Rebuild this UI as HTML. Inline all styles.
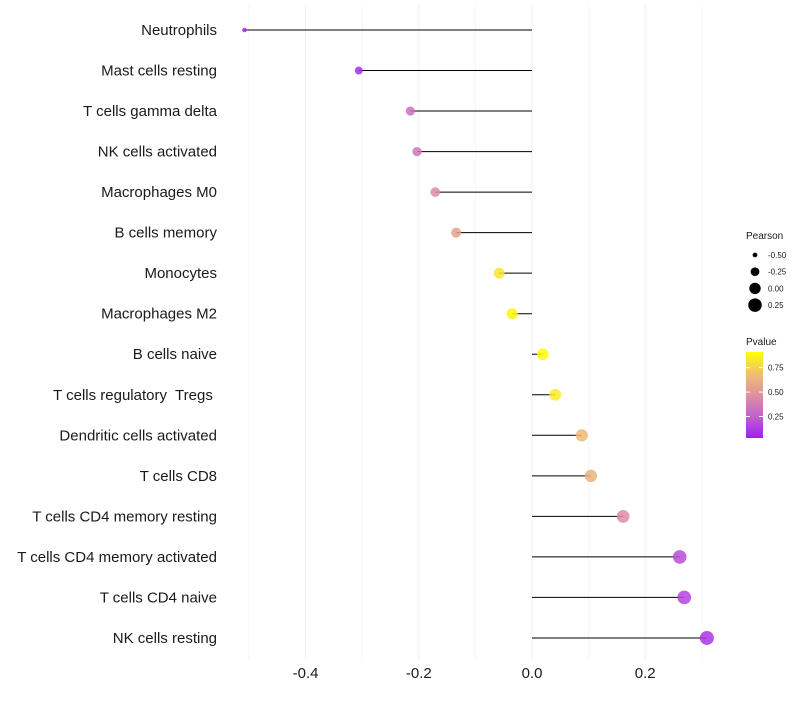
<!DOCTYPE html>
<html><head><meta charset="utf-8"><style>
body{margin:0;background:#fff;font-family:"Liberation Sans",Arial,sans-serif}
</style></head><body>
<svg id="chart" width="800" height="700" xmlns="http://www.w3.org/2000/svg">
<g id="grid"></g><g id="marks"></g><g id="labels"></g><g id="legend"></g>
</svg>
<script>
const categories=["Neutrophils","Mast cells resting","T cells gamma delta","NK cells activated","Macrophages M0","B cells memory","Monocytes","Macrophages M2","B cells naive","T cells regulatory  Tregs ","Dendritic cells activated","T cells CD8","T cells CD4 memory resting","T cells CD4 memory activated","T cells CD4 naive","NK cells resting"];
const pearson=[-0.508,-0.306,-0.215,-0.203,-0.171,-0.134,-0.058,-0.035,0.019,0.041,0.088,0.104,0.161,0.261,0.269,0.309];
const pvalues=[0.05,0.08,0.32,0.36,0.45,0.55,0.82,0.88,0.9,0.84,0.66,0.62,0.45,0.18,0.15,0.1];
const xTicks=[-0.4,-0.2,0.0,0.2];
const xTickLabels=["-0.4","-0.2","0.0","0.2"];
const sizeLegend=[-0.5,-0.25,0,0.25];
const sizeLegendLabels=["-0.50","-0.25","0.00","0.25"];
const colorTicks=[0.25,0.5,0.75];
const colorTickLabels=["0.25","0.50","0.75"];

const NS="http://www.w3.org/2000/svg";
const x=v=>532+v*566;
const y=i=>30+i*40.53;
const r=v=>Math.sqrt(Math.max(2,16+(v+0.306)*53.7));
const stops=[[0,[160,32,240]],[0.25,[196,96,208]],[0.5,[224,144,160]],[0.75,[240,192,112]],[1,[255,255,0]]];
function col(p){const t=Math.max(0,Math.min(1,(p-0.03)/0.88));
 for(let k=1;k<stops.length;k++){if(t<=stops[k][0]){const a=stops[k-1],b=stops[k];const f=(t-a[0])/(b[0]-a[0]);
 return "rgb("+a[1].map((c,j)=>Math.round(c+(b[1][j]-c)*f)).join(",")+")";}}return "rgb(255,255,0)";}
function mk(tag,attrs,parent,txt){const e=document.createElementNS(NS,tag);for(const k in attrs)e.setAttribute(k,attrs[k]);if(txt!==undefined)e.textContent=txt;document.getElementById(parent).appendChild(e);return e;}
for(let v=-0.5;v<=0.31;v+=0.1){const l=mk("line",{x1:x(v),x2:x(v),y1:5,y2:660,stroke:"#f0f0f0","stroke-width":Math.abs(Math.round(v*10))%2===0?1:0.6},"grid");

}
categories.forEach((c,i)=>{
 const s=mk("line",{x1:x(0),x2:x(pearson[i]),y1:y(i),y2:y(i),stroke:"#000","stroke-width":1},"marks");
 
 
 const d=mk("circle",{cx:x(pearson[i]),cy:y(i),r:r(pearson[i]),fill:col(pvalues[i]),"fill-opacity":0.85},"marks");
 
 
 const t=mk("text",{x:217,y:y(i)+5,"text-anchor":"end","font-size":15,fill:"#1a1a1a"},"labels",c);
 
 
 t.setAttribute('xml:space','preserve');t.style.whiteSpace='pre';
});
xTicks.forEach((v,i)=>{const t=mk("text",{x:x(v),y:678,"text-anchor":"middle","font-size":15,fill:"#1a1a1a"},"labels",xTickLabels[i]);

});
const lt=mk("text",{x:746,y:239,"font-size":10,fill:"#1a1a1a"},"legend","Pearson");


sizeLegend.forEach((v,i)=>{const cy=255+i*16.7;
 const c=mk("circle",{cx:755,cy:cy,r:r(v),fill:"#000"},"legend");
 
 
 const t=mk("text",{x:768,y:cy+3,"font-size":8,fill:"#1a1a1a"},"legend",sizeLegendLabels[i]);
 
 });
const ct=mk("text",{x:746,y:345,"font-size":10,fill:"#1a1a1a"},"legend","Pvalue");


const defs=document.createElementNS(NS,"defs");document.getElementById("chart").appendChild(defs);
const g=document.createElementNS(NS,"linearGradient");g.setAttribute("id","pg");g.setAttribute("x1","0");g.setAttribute("y1","1");g.setAttribute("x2","0");g.setAttribute("y2","0");defs.appendChild(g);
stops.forEach(s=>{const st=document.createElementNS(NS,"stop");st.setAttribute("offset",s[0]);st.setAttribute("stop-color","rgb("+s[1].join(",")+")");g.appendChild(st);});
const bar=mk("rect",{x:746,y:352,width:17,height:86,fill:"url(#pg)"},"legend");


const cy=v=>438-(v-0.03)/0.88*86;
colorTicks.forEach((v,i)=>{
 mk("line",{x1:746,x2:750,y1:cy(v),y2:cy(v),stroke:"#fff"},"legend");
 mk("line",{x1:759,x2:763,y1:cy(v),y2:cy(v),stroke:"#fff"},"legend");
 const t=mk("text",{x:768,y:cy(v)+3,"font-size":8,fill:"#1a1a1a"},"legend",colorTickLabels[i]);
 
 });
</script>
</body></html>
